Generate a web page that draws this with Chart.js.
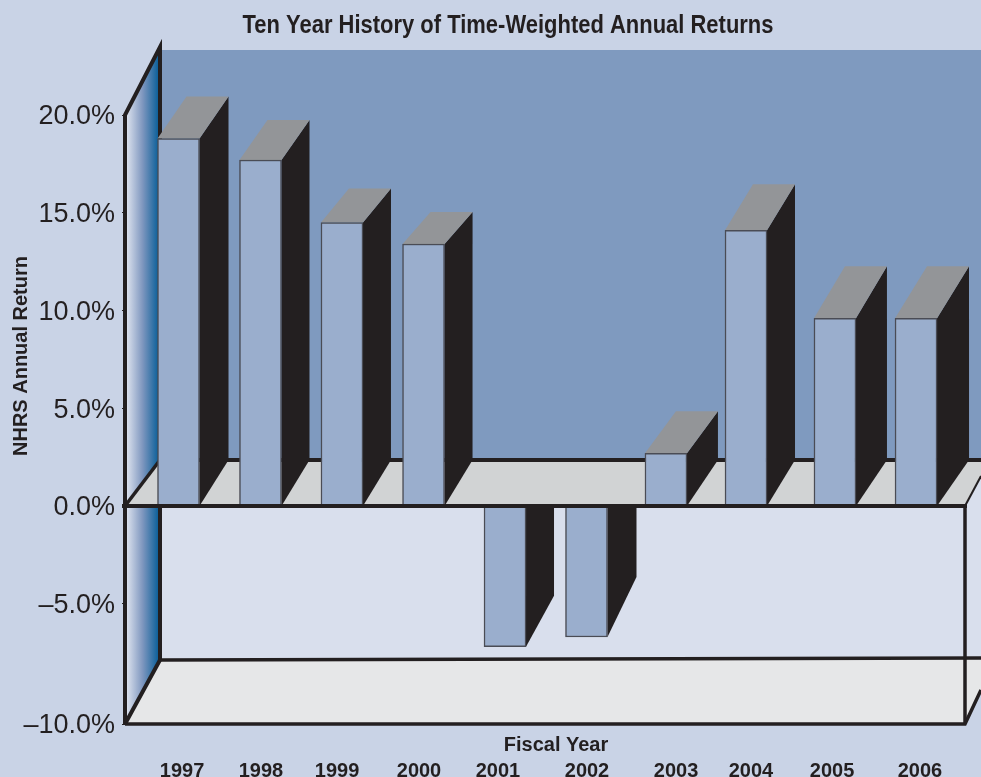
<!DOCTYPE html>
<html><head><meta charset="utf-8">
<style>html,body{margin:0;padding:0;background:#c9d3e6}canvas{display:block}</style>
<script src="https://cdn.jsdelivr.net/npm/chart.js@4/dist/chart.umd.js"></script>
</head><body>
<div style="width:981px;height:777px"><canvas id="c"></canvas></div>
<script>
// Fiscal-year returns, in percent
const fiscalYears = ['1997','1998','1999','2000','2001','2002','2003','2004','2005','2006'];
const annualReturns = [18.8,17.7,14.5,13.4,-7.2,-6.7,2.7,14.1,9.6,9.6];
const returnTicks = [20,15,10,5,0,-5,-10];

// Oblique projection of each column: horizontal and vertical run of its depth edge
const columnDepthX = [29,28,28,28,28,29,31,28,31,32];
const columnDepthY = [42,40,34,32,51,60,42,46,52,52];

// The printed axis spaces its columns and year labels unevenly (share of the axis length)
const columnSlots = [.0637,.1613,.2583,.3554,.4524,.5494,.6440,.7393,.8452,.9417];
const labelSlots = [.0679,.1619,.2524,.3500,.4440,.5500,.6560,.7452,.8417,.9464];

// Room depth
const FLOOR_DX = 35, FLOOR_DY = 46, BASE_DY = 64;

class SlottedCategoryScale extends Chart.CategoryScale {
  static id = 'slottedCategory';
  static defaults = {};
  getPixelForValue(value) {
    const i = typeof value === 'number' ? value : this.getLabels().indexOf(value);
    return this.left + columnSlots[i] * this.width;
  }
  getPixelForTick(index) {
    return this.left + labelSlots[index] * this.width;
  }
}

// Value axis whose lowest band is drawn stretched, so -10% sits on the front floor edge
const LOW_BAND = -7.5, LOW_STRETCH = 1.46;
const warp = v => v < LOW_BAND ? LOW_BAND + (v - LOW_BAND) * LOW_STRETCH : v;
class FloorStretchScale extends Chart.LinearScale {
  static id = 'floorStretch';
  static defaults = {};
  getPixelForValue(value) { return super.getPixelForValue(warp(value)); }
}
Chart.register(SlottedCategoryScale, FloorStretchScale);

function poly(ctx, pts, fill, stroke, lw) {
  ctx.beginPath();
  pts.forEach((p, i) => i ? ctx.lineTo(p[0], p[1]) : ctx.moveTo(p[0], p[1]));
  if (fill) { ctx.fillStyle = fill; ctx.fill(); }
  if (stroke) { ctx.strokeStyle = stroke; ctx.lineWidth = lw; ctx.lineJoin = 'miter'; ctx.stroke(); }
}

const INK = '#231f20';
const BOLD = 'bold 20px "Liberation Sans"';

// The room around the columns: walls, floors, frame and the free-standing captions
const roomPlugin = {
  id: 'room',
  beforeDraw(chart) {
    const { ctx, width: W, chartArea: a, scales: { y } } = chart;
    const L = a.left, R = a.right;
    const top = y.getPixelForValue(20), zero = y.getPixelForValue(0), low = y.getPixelForValue(-10);
    const bx = L + FLOOR_DX, backLow = low - BASE_DY;
    const backFloor = zero - FLOOR_DY;
    ctx.save();
    ctx.fillStyle = '#c9d3e6'; ctx.fillRect(0, 0, W, chart.height);
    // back wall
    ctx.fillStyle = '#7f9abf'; ctx.fillRect(bx, 50, W - bx, backFloor - 50);
    // front wall below the zero line
    poly(ctx, [[bx, zero], [R, zero], [W, zero - 30], [W, backLow], [bx, backLow]], '#d9dfed');
    // upper floor
    poly(ctx, [[L, zero], [bx, backFloor], [W, backFloor], [W, zero - 30], [R, zero]], '#d1d3d4');
    // lower floor
    poly(ctx, [[L, low], [bx, backLow], [W, backLow - 2], [W, low - 34], [R, low]], '#e6e7e8');
    // left wall with its blue fade
    const g = ctx.createLinearGradient(L, 0, bx, 0);
    g.addColorStop(0, '#e6eaf3'); g.addColorStop(.5, '#7f97bf'); g.addColorStop(1, '#005a96');
    poly(ctx, [[L, top], [bx, top - 68], [bx, zero - FLOOR_DY], [L, zero]], g);
    poly(ctx, [[L, zero], [bx, zero], [bx, backLow], [L, low]], g);
    // frame
    ctx.lineCap = 'butt';
    const frame = (pts, lw) => { poly(ctx, pts, null, INK, lw); };
    frame([[L, low + 1], [L, top], [bx, top - 68], [bx, backFloor]], 4);
    frame([[L, zero], [bx, backFloor]], 3.5);
    frame([[bx, backFloor], [W, backFloor]], 4);
    frame([[bx, zero], [bx, backLow], [L, low]], 4);
    frame([[bx, backLow], [W, backLow - 2]], 3.5);
    frame([[L, low], [R, low], [W, low - 34]], 3.5);
    frame([[R, zero], [R, low]], 3.5);
    frame([[R, zero], [W, zero - 30]], 2);

    // captions
    ctx.fillStyle = INK; ctx.textAlign = 'center'; ctx.textBaseline = 'alphabetic';
    ctx.save();
    ctx.translate(508, 32.5); ctx.scale(.845, 1);
    ctx.font = 'bold 26px "Liberation Sans"';
    ctx.fillText('Ten Year History of Time-Weighted Annual Returns', 0, 0);
    ctx.restore();
    ctx.font = BOLD; ctx.textBaseline = 'middle';
    ctx.fillText('Fiscal Year', 556, 745);
    ctx.save();
    ctx.translate(21, 356); ctx.rotate(-Math.PI / 2);
    ctx.fillText('NHRS Annual Return', 0, 0);
    ctx.restore();
    ctx.restore();
  },
  // side and top faces of each column, projected from the bar the library laid out
  beforeDatasetsDraw(chart) {
    const { ctx, scales: { y } } = chart;
    const zero = y.getPixelForValue(0);
    ctx.save();
    chart.getDatasetMeta(0).data.forEach((bar, i) => {
      const h = bar.getProps(['x', 'y', 'width'], true);
      const lx = h.x - h.width / 2, rx = h.x + h.width / 2;
      const dx = columnDepthX[i], dy = columnDepthY[i];
      if (annualReturns[i] >= 0) {
        poly(ctx, [[rx, h.y], [rx + dx, h.y - dy], [rx + dx, zero - FLOOR_DY], [rx, zero]], INK);
        poly(ctx, [[lx, h.y], [lx + dx, h.y - dy], [rx + dx, h.y - dy], [rx, h.y]], '#939598');
      } else {
        poly(ctx, [[rx, zero], [rx + dx, zero], [rx + dx, h.y - dy], [rx, h.y]], INK);
      }
    });
    ctx.restore();
  },
  // the front edge of the upper floor runs across the feet of the columns
  afterDatasetsDraw(chart) {
    const { ctx, chartArea: a, scales: { y } } = chart;
    const zero = y.getPixelForValue(0);
    ctx.save();
    poly(ctx, [[a.left - 3, zero], [a.right + 2, zero]], null, INK, 4);
    ctx.restore();
  }
};

new Chart(document.getElementById('c'), {
  type: 'bar',
  data: {
    labels: fiscalYears,
    datasets: [{
      data: annualReturns,
      backgroundColor: '#9aaecd',
      borderColor: '#4a4c55',
      borderWidth: 1.5,
      barThickness: 42
    }]
  },
  plugins: [roomPlugin],
  options: {
    responsive: true,
    maintainAspectRatio: false,
    animation: false,
    layout: { padding: { top: 115, right: 16, left: 0, bottom: 0 } },
    plugins: { legend: { display: false }, tooltip: { enabled: false } },
    scales: {
      x: {
        type: 'slottedCategory',
        position: 'bottom',
        offset: true,
        afterFit(scale) { scale.height = 53; },
        grid: { display: false },
        border: { display: false },
        ticks: {
          autoSkip: false, maxRotation: 0, padding: 27,
          color: INK, font: { family: '"Liberation Sans"', weight: 'bold', size: 20 }
        }
      },
      y: {
        type: 'floorStretch',
        min: warp(-10),
        max: 20,
        bounds: 'data',
        afterBuildTicks(scale) { scale.ticks = returnTicks.map(value => ({ value })); },
        afterFit(scale) { scale.width = 125; },
        border: { display: false },
        grid: { drawOnChartArea: false, tickLength: 3, color: INK, lineWidth: 1 },
        ticks: {
          autoSkip: false, padding: 7, labelOffset: 2, color: INK,
          font: { family: '"Liberation Sans"', size: 27 },
          callback: v => (v < 0 ? '\u2013' : '') + Math.abs(v).toFixed(1) + '%'
        }
      }
    }
  }
});
</script>
</body></html>
